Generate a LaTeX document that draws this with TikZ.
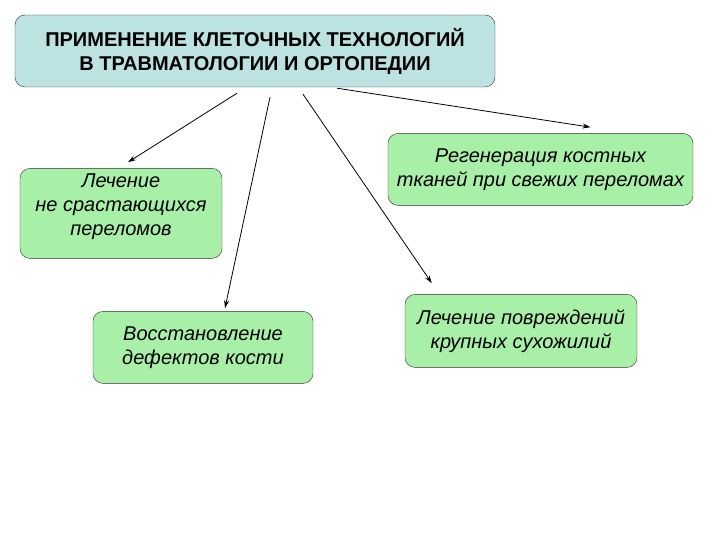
\documentclass[tikz,border=0pt]{standalone}
\usepackage{fontspec}
\setmainfont{Liberation Sans}
\usepackage{tikz}
\usetikzlibrary{arrows.meta, positioning}
\definecolor{headCyan}{HTML}{BCE2E2}
\definecolor{leafGreen}{HTML}{A8F0A8}
\definecolor{edgeGray}{HTML}{303030}

\begin{document}
\begin{tikzpicture}[
    x=1pt, y=1pt,
    head/.style={draw=edgeGray, rounded corners=10pt, fill=headCyan,
                 minimum width=480pt, minimum height=72pt,
                 font=\fontsize{20}{24}\selectfont\bfseries, align=center},
    leaf/.style={draw=edgeGray, rounded corners=10pt, fill=leafGreen,
                 anchor=north west, inner sep=0pt,
                 font=\fontsize{20}{24}\selectfont\itshape, align=center},
    arrow/.style={-{Stealth[length=8pt,width=5pt]}, line width=0.8pt},
]
\useasboundingbox (0,0) rectangle (720,-540);

% Title
\node[head] (title) at (255,-51)
    {ПРИМЕНЕНИЕ КЛЕТОЧНЫХ ТЕХНОЛОГИЙ\\В ТРАВМАТОЛОГИИ И ОРТОПЕДИИ};

% Left branch
\node[leaf, below right=81pt and 5pt of title.south west,
      minimum width=202pt, minimum height=90pt, inner ysep=4pt, text depth=18pt]
    (nonunion) {Лечение\\не срастающихся\\переломов};
\node[leaf, below right=224pt and 78pt of title.south west,
      minimum width=220pt, minimum height=72pt]
    (defect) {Восстановление\\дефектов кости};

% Right branch
\node[leaf, below right=46pt and 373pt of title.south west,
      minimum width=305pt, minimum height=72pt]
    (regen) {Регенерация костных\\тканей при свежих переломах};
\node[leaf, below right=207pt and 390pt of title.south west,
      minimum width=232pt, minimum height=73pt]
    (tendon) {Лечение повреждений\\крупных сухожилий};

% Arrow starts
\coordinate (s1) at ([xshift=-18pt,yshift=-6pt]title.south);
\coordinate (s2) at ([xshift=15pt,yshift=-10pt]title.south);
\coordinate (s3) at ([xshift=48pt,yshift=-7pt]title.south);
\coordinate (s4) at ([xshift=82pt,yshift=-1pt]title.south);

\draw[arrow] (s1) -- ([xshift=7pt,yshift=6pt]nonunion.north);
\draw[arrow] (s2) -- ([xshift=22pt,yshift=3pt]defect.north);
\draw[arrow] (s3) -- ([xshift=27pt,yshift=11pt]tendon.north west);
\draw[arrow] (s4) -- ([xshift=50pt,yshift=6pt]regen.north);
\end{tikzpicture}
\end{document}
